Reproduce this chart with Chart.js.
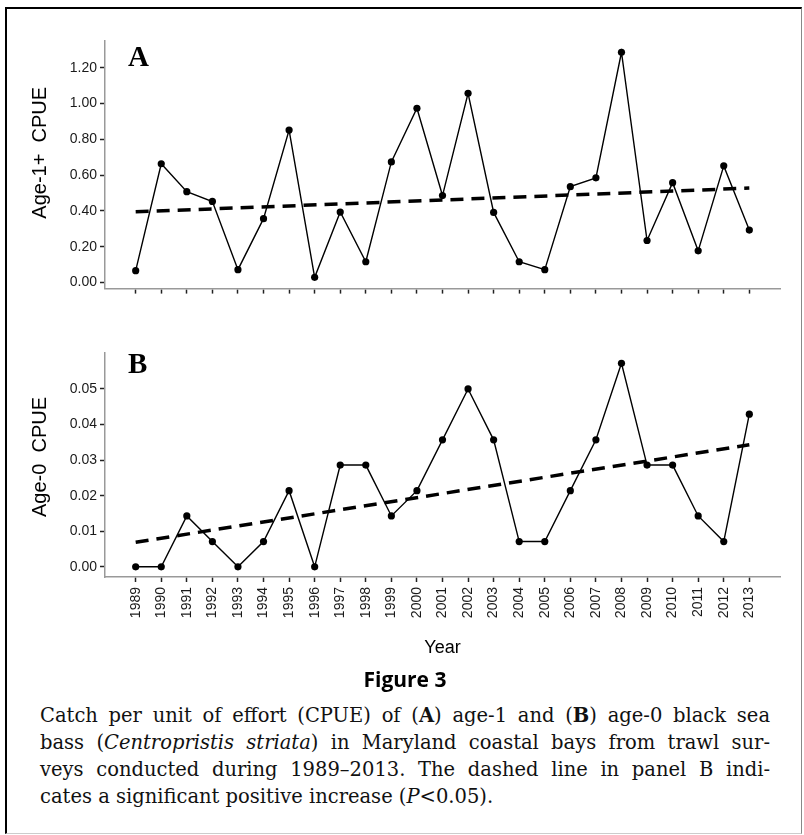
<!DOCTYPE html>
<html>
<head>
<meta charset="utf-8">
<script src="https://cdn.jsdelivr.net/npm/chart.js@4.4.0/dist/chart.umd.min.js"></script>
<style>
  html,body{margin:0;padding:0;background:#fff;}
  body{width:804px;height:835px;position:relative;overflow:hidden;}
  #frame{position:absolute;left:5px;top:7px;width:797px;height:827px;box-sizing:border-box;
    border-top:2px solid #000;border-left:2px solid #000;border-right:1px solid #888;border-bottom:1px solid #ccc;}
  canvas{position:absolute;left:0;}
  #cA{top:0;}
  #cB{top:300px;}
  #year{position:absolute;left:105px;width:675px;top:637px;text-align:center;
    font:18px "Liberation Sans",Arial,sans-serif;line-height:20px;color:#000;}
  #fig{position:absolute;left:5px;width:800px;top:666px;text-align:center;
    font:bold 21px "Open Sans",sans-serif;line-height:26px;color:#000;}
  #cap{position:absolute;left:40px;width:730px;top:702px;
    font:19.5px "DejaVu Serif",serif;line-height:27px;color:#111;}
  #cap span.l{display:block;text-align:justify;text-align-last:justify;white-space:nowrap;}
  #cap span.last{display:block;text-align:left;}
</style>
</head>
<body>
<div id="frame"></div>
<canvas id="cA" width="804" height="300"></canvas>
<canvas id="cB" width="804" height="365"></canvas>
<div id="year">Year</div>
<div id="fig">Figure 3</div>
<div id="cap">
  <span class="l">Catch per unit of effort (CPUE) of (<b>A</b>) age-1 and (<b>B</b>) age-0 black sea</span>
  <span class="l">bass (<i>Centropristis striata</i>) in Maryland coastal bays from trawl sur-</span>
  <span class="l">veys conducted during 1989–2013. The dashed line in panel B indi-</span>
  <span class="last">cates a significant positive increase (<i>P</i>&lt;0.05).</span>
</div>
<script>
// years on the x axis
const years = [1989,1990,1991,1992,1993,1994,1995,1996,1997,1998,1999,2000,2001,
  2002,2003,2004,2005,2006,2007,2008,2009,2010,2011,2012,2013];

// panel A: age-1+ CPUE
const cpueAge1 = [0.066,0.664,0.508,0.453,0.072,0.357,0.852,0.029,0.394,0.116,0.674,0.974,0.486,
  1.058,0.392,0.116,0.072,0.536,0.585,1.287,0.235,0.558,0.177,0.652,0.293];
const trendAge1 = [0.395,0.528];          // dashed fit at 1989 and 2013
const ticksAge1 = [0,0.2,0.4,0.6,0.8,1.0,1.2];

// panel B: age-0 CPUE
const cpueAge0 = [0,0,0.0143,0.0071,0,0.0071,0.0214,0,0.0286,0.0286,0.0143,0.0214,0.0357,
  0.05,0.0357,0.0071,0.0071,0.0214,0.0357,0.0572,0.0286,0.0286,0.0143,0.0071,0.0429];
const trendAge0 = [0.0069,0.0343];
const ticksAge0 = [0,0.01,0.02,0.03,0.04,0.05];

const tickFont = {family:'"Liberation Sans", Arial, sans-serif', size:14};

// y title + panel letter, drawn relative to the chart area
const panelText = {
  id:'panelText',
  afterDraw(chart, args, o){
    const {ctx, chartArea:a} = chart;
    ctx.save();
    ctx.fillStyle = '#000';
    ctx.font = 'bold 29px "Liberation Serif", "Times New Roman", serif';
    ctx.textAlign = 'left';
    ctx.textBaseline = 'alphabetic';
    ctx.fillText(o.letter, 128, a.top + o.letterDy);
    ctx.font = '20px "Liberation Sans", Arial, sans-serif';
    ctx.textAlign = 'center';
    ctx.textBaseline = 'middle';
    ctx.translate(40, (a.top + a.bottom)/2 + o.titleDy);
    ctx.rotate(-Math.PI/2);
    ctx.fillText(o.title, 0, 0);
    ctx.restore();
  }
};

function makePanel(id, vals, trend, yTicks, yMin, yMax, opt){
  const series = years.map((y,i)=>({x:y, y:vals[i]}));
  const fit = [{x:years[0], y:trend[0]}, {x:years[years.length-1], y:trend[1]}];
  return new Chart(document.getElementById(id), {
    type:'line',
    data:{datasets:[
      {data:fit, borderColor:'#000', borderWidth:3.5, borderDash:[13,8], pointRadius:0, tension:0},
      {data:series, borderColor:'#000', borderWidth:1.4, pointRadius:3.6, pointBackgroundColor:'#000',
        pointBorderWidth:0, tension:0}
    ]},
    options:{
      responsive:false,
      devicePixelRatio:1,
      animation:false,
      events:[],
      layout:{padding:{top:opt.padTop, right:24, bottom:0, left:0}},
      plugins:{legend:{display:false}, tooltip:{enabled:false},
        panelText:{letter:opt.letter, letterDy:opt.letterDy, title:opt.title, titleDy:opt.titleDy}},
      scales:{
        x:{
          type:'linear', min:1987.8, max:2014.2,
          afterBuildTicks:s=>{ s.ticks = years.map(v=>({value:v})); },
          afterFit:s=>{ s.height = opt.xHeight; },
          grid:{drawOnChartArea:false, drawTicks:true, tickLength:5, tickColor:'#222', tickWidth:1.5},
          border:{display:true, color:'#999', width:1.5},
          ticks:{
            autoSkip:false, minRotation:90, maxRotation:90, padding:5,
            color:'#1a1a1a', font:tickFont,
            callback:v=> opt.showYears ? String(v) : ''
          }
        },
        y:{
          type:'linear', min:yMin, max:yMax,
          afterBuildTicks:s=>{ s.ticks = yTicks.map(v=>({value:v})); },
          afterFit:s=>{ s.width = 105; },
          grid:{drawOnChartArea:false, drawTicks:true, tickLength:5, tickColor:'#222', tickWidth:1.5},
          border:{display:true, color:'#999', width:1.5},
          ticks:{color:'#1a1a1a', font:tickFont, padding:3, callback:v=>v.toFixed(2)}
        }
      }
    },
    plugins:[panelText]
  });
}

makePanel('cA', cpueAge1, trendAge1, ticksAge1, -0.034, 1.35,
  {padTop:41, xHeight:8.5, showYears:false, letter:'A', letterDy:25, title:'Age-1+  CPUE', titleDy:-12});
makePanel('cB', cpueAge0, trendAge0, ticksAge0, -0.00286, 0.0601,
  {padTop:53, xHeight:88, showYears:true, letter:'B', letterDy:20, title:'Age-0  CPUE', titleDy:-8});
</script>
</body>
</html>
